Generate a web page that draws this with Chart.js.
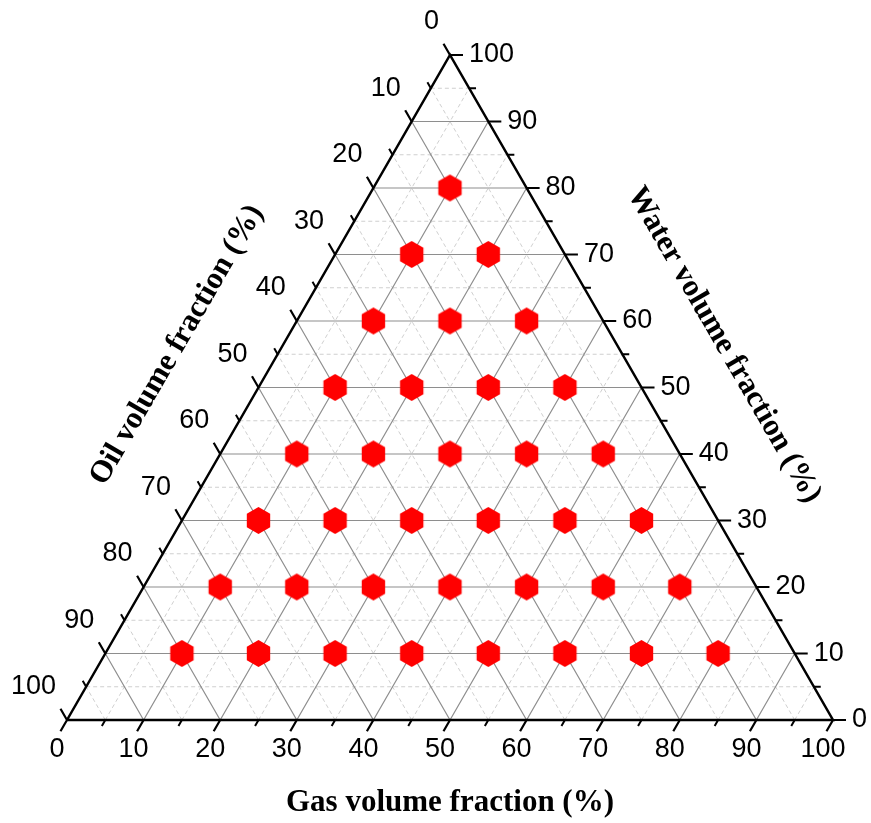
<!DOCTYPE html>
<html>
<head>
<meta charset="utf-8">
<script src="https://cdn.jsdelivr.net/npm/chart.js@4/dist/chart.umd.min.js"></script>
<style>
  html, body { margin: 0; padding: 0; background: #fff; }
  canvas { display: block; }
</style>
</head>
<body>
<canvas id="ternary" width="871" height="823"></canvas>
<script>
// measured compositions (%), one entry per marker
const gasFraction = [
  10, 20, 30, 40, 50, 60, 70, 80,
  10, 20, 30, 40, 50, 60, 70,
  10, 20, 30, 40, 50, 60,
  10, 20, 30, 40, 50,
  10, 20, 30, 40,
  10, 20, 30,
  10, 20,
  10
];
const waterFraction = [
  10, 10, 10, 10, 10, 10, 10, 10,
  20, 20, 20, 20, 20, 20, 20,
  30, 30, 30, 30, 30, 30,
  40, 40, 40, 40, 40,
  50, 50, 50, 50,
  60, 60, 60,
  70, 70,
  80
];

// axis ticks
const majorTicks = [0, 10, 20, 30, 40, 50, 60, 70, 80, 90, 100];
const minorTicks = [5, 15, 25, 35, 45, 55, 65, 75, 85, 95];
const tickLabels = ["0", "10", "20", "30", "40", "50", "60", "70", "80", "90", "100"];

const gasTitle = "Gas volume fraction (%)";
const waterTitle = "Water volume fraction (%)";
const oilTitle = "Oil volume fraction (%)";

const H = Math.sqrt(3) / 2;

// ternary (gas, water) -> cartesian, base 0..100
function toXY(gas, water) {
  return { x: gas + water / 2, y: water * H };
}

const GAP = { x: null, y: null };

// grid lines for every inner tick value, all three families
function gridLines(values) {
  const pts = [];
  values.filter(v => v > 0 && v < 100).forEach(v => {
    // gas = v
    pts.push(toXY(v, 0), toXY(v, 100 - v), GAP);
    // water = v
    pts.push(toXY(0, v), toXY(100 - v, v), GAP);
    // oil = v
    pts.push(toXY(100 - v, 0), toXY(0, 100 - v), GAP);
  });
  return pts;
}

// little tick marks pointing out of the triangle
function tickMarks(values, len) {
  const pts = [];
  values.forEach(v => {
    const b = toXY(v, 0); // gas axis, bottom
    pts.push(b, { x: b.x - len / 2, y: b.y - len * H }, GAP);
    const r = toXY(100 - v, v); // water axis, right
    pts.push(r, { x: r.x + len, y: r.y }, GAP);
    const l = toXY(0, 100 - v); // oil axis, left
    pts.push(l, { x: l.x - len / 2, y: l.y + len * H }, GAP);
  });
  return pts;
}

// red hexagon marker
function hexagon(r) {
  const c = document.createElement("canvas");
  const s = Math.ceil(r * 2 + 2);
  c.width = s;
  c.height = s;
  const g = c.getContext("2d");
  g.beginPath();
  for (let i = 0; i < 6; i++) {
    const a = -Math.PI / 2 + i * Math.PI / 3;
    const px = s / 2 + r * Math.cos(a);
    const py = s / 2 + r * Math.sin(a);
    if (i === 0) g.moveTo(px, py); else g.lineTo(px, py);
  }
  g.closePath();
  g.fillStyle = "#ff0000";
  g.fill();
  return c;
}

const samplePoints = gasFraction.map((g, i) => toXY(g, waterFraction[i]));

const edges = [toXY(0, 0), toXY(100, 0), toXY(0, 100), toXY(0, 0)];

// tick labels + axis titles
const labelsPlugin = {
  id: "ternaryLabels",
  afterDraw(chart) {
    const { ctx, scales: { x, y } } = chart;
    const px = p => ({ x: x.getPixelForValue(p.x), y: y.getPixelForValue(p.y) });
    ctx.save();
    ctx.fillStyle = "#000";
    ctx.font = '27px "Liberation Sans", Arial, sans-serif';
    ctx.textBaseline = "middle";
    majorTicks.forEach((v, i) => {
      const b = px(toXY(v, 0));
      ctx.textAlign = "center";
      ctx.fillText(tickLabels[i], b.x - 10, b.y + 30);
      const r = px(toXY(100 - v, v));
      ctx.textAlign = "left";
      ctx.fillText(tickLabels[i], r.x + 19, r.y);
      const l = px(toXY(0, 100 - v));
      ctx.textAlign = "right";
      ctx.fillText(tickLabels[i], l.x - 11, l.y - 33);
    });

    ctx.font = 'bold 31px "Liberation Serif", "Times New Roman", serif';
    ctx.textAlign = "center";
    ctx.textBaseline = "middle";
    ctx.fillText(gasTitle, x.getPixelForValue(50), y.getPixelForValue(0) + 83);

    ctx.save();
    ctx.translate(177, 345);
    ctx.rotate(-Math.PI / 3);
    ctx.fillText(oilTitle, 0, 0);
    ctx.restore();

    ctx.save();
    ctx.translate(724, 345);
    ctx.rotate(Math.PI / 3);
    ctx.fillText(waterTitle, 0, 0);
    ctx.restore();
    ctx.restore();
  }
};

new Chart(document.getElementById("ternary"), {
  type: "scatter",
  data: {
    datasets: [
      {
        data: samplePoints,
        pointStyle: hexagon(13.5),
        pointRadius: 14,
        showLine: false,
        order: 0
      },
      {
        data: edges,
        showLine: true,
        borderColor: "#000",
        borderWidth: 2.5,
        pointRadius: 0,
        clip: false,
        order: 1
      },
      {
        data: tickMarks(majorTicks, 1.7),
        showLine: true,
        borderColor: "#000",
        borderWidth: 2.2,
        pointRadius: 0,
        clip: false,
        order: 2
      },
      {
        data: tickMarks(minorTicks, 0.9),
        showLine: true,
        borderColor: "#000",
        borderWidth: 2,
        pointRadius: 0,
        clip: false,
        order: 3
      },
      {
        data: gridLines(majorTicks),
        showLine: true,
        borderColor: "#8e8e8e",
        borderWidth: 1.2,
        pointRadius: 0,
        order: 4
      },
      {
        data: gridLines(minorTicks),
        showLine: true,
        borderColor: "#cfcfcf",
        borderWidth: 1,
        borderDash: [4, 3],
        pointRadius: 0,
        order: 5
      }
    ]
  },
  options: {
    responsive: false,
    animation: false,
    layout: { padding: { left: 67, right: 38, top: 55, bottom: 103 } },
    scales: {
      x: { type: "linear", min: 0, max: 100, display: false },
      y: { type: "linear", min: 0, max: 100 * H, display: false }
    },
    plugins: {
      legend: { display: false },
      tooltip: { enabled: false }
    }
  },
  plugins: [labelsPlugin]
});
</script>
</body>
</html>
